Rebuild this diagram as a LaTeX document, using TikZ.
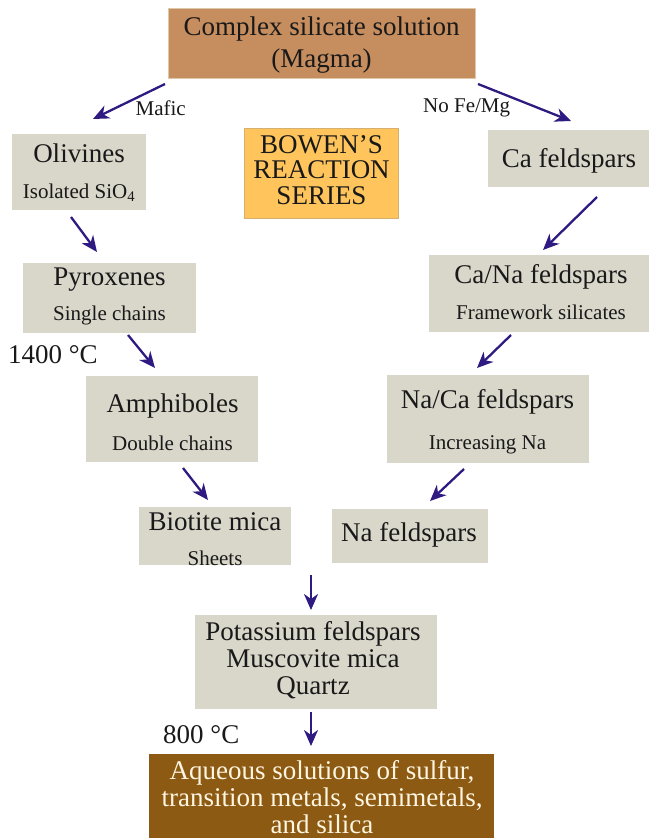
\documentclass[tikz,border=0pt]{standalone}
\usepackage{fontspec}
\setmainfont{Liberation Serif}
\usetikzlibrary{arrows.meta}
\definecolor{boxgray}{RGB}{217,214,202}
\definecolor{topbrown}{RGB}{198,141,95}
\definecolor{topedge}{RGB}{222,200,170}
\definecolor{bowenfill}{RGB}{255,197,92}
\definecolor{bowenedge}{RGB}{214,176,110}
\definecolor{botbrown}{RGB}{140,90,18}
\definecolor{arrowblue}{RGB}{46,26,128}
\definecolor{txtdark}{RGB}{25,25,25}
\definecolor{txtcream}{RGB}{255,246,226}
\begin{document}
\begin{tikzpicture}[x=1pt,y=-1pt,
  graybox/.style={fill=boxgray, draw=none, inner sep=0pt},
  bigtxt/.style={font=\fontsize{27}{27}\selectfont, text=txtdark, inner sep=0pt},
  smalltxt/.style={font=\fontsize{21}{21}\selectfont, text=txtdark, inner sep=0pt},
  arr/.style={draw=arrowblue, line width=2.3pt, -{Stealth[length=16pt,width=14pt,inset=5pt]}}
]
\useasboundingbox (0,0) rectangle (648,838);

% top box
\node[fill=topbrown, draw=topedge, line width=1pt, minimum width=307pt, minimum height=70pt, inner sep=0pt] (magma) at (321.5,43) {};
\node[bigtxt, align=center, font=\fontsize{27}{32}\selectfont] (magmatxt) at (321.5,45) {Complex silicate solution\\(Magma)};

% Bowen box
\node[fill=bowenfill, draw=bowenedge, line width=0.8pt, minimum width=154pt, minimum height=90pt, inner sep=0pt] (bowen) at (321.5,173) {};
\node[bigtxt, align=center, font=\fontsize{27}{25.5}\selectfont] (bowentxt) at (321.5,170) {BOWEN’S\\REACTION\\SERIES};

% left series
\node[graybox, minimum width=134pt, minimum height=76pt] (oliv) at (79,172) {};
\node[bigtxt] (olivT) at (79,153) {Olivines};
\node[smalltxt] (olivS) at (79,193) {Isolated SiO\textsubscript{4}};

\node[graybox, minimum width=173pt, minimum height=70pt] (pyro) at (109.5,298) {};
\node[bigtxt] (pyroT) at (109.5,280) {Pyroxenes};
\node[smalltxt] (pyroS) at (109.5,315) {Single chains};

\node[graybox, minimum width=172pt, minimum height=86pt] (amph) at (172,419) {};
\node[bigtxt] (amphT) at (172.5,406) {Amphiboles};
\node[smalltxt] (amphS) at (172.5,443) {Double chains};

\node[graybox, minimum width=152pt, minimum height=58pt] (biot) at (215,536) {};
\node[bigtxt] (biotT) at (215,522) {Biotite mica};
\node[smalltxt] (biotS) at (215,558) {Sheets};

% right series
\node[graybox, minimum width=162pt, minimum height=57pt] (caf) at (569,158.5) {};
\node[bigtxt] (cafT) at (569,161) {Ca feldspars};

\node[graybox, minimum width=221pt, minimum height=77pt] (cana) at (539.5,293.5) {};
\node[bigtxt] (canaT) at (541,277) {Ca/Na feldspars};
\node[smalltxt] (canaS) at (541,312) {Framework silicates};

\node[graybox, minimum width=202pt, minimum height=88pt] (naca) at (488,419) {};
\node[bigtxt] (nacaT) at (487.5,402) {Na/Ca feldspars};
\node[smalltxt] (nacaS) at (487.5,445) {Increasing Na};

\node[graybox, minimum width=156pt, minimum height=54pt] (naf) at (410,536) {};
\node[bigtxt] (nafT) at (409,535) {Na feldspars};

% bottom
\node[graybox, minimum width=242pt, minimum height=94pt] (pot) at (316,662) {};
\node[bigtxt, align=center, font=\fontsize{27}{27}\selectfont] (potT) at (313,660) {Potassium feldspars\\Muscovite mica\\Quartz};

\node[fill=botbrown, inner sep=0pt, minimum width=345pt, minimum height=84pt] (aq) at (321.5,796) {};
\node[bigtxt, text=txtcream, align=center, font=\fontsize{27}{27}\selectfont] (aqT) at (322,797) {Aqueous solutions of sulfur,\\transition metals, semimetals,\\and silica};

% labels
\node[smalltxt, anchor=east] (mafic) at (186,108) {Mafic};
\node[smalltxt, anchor=west] (nofe) at (423,108) {No Fe/Mg};
\node[bigtxt, anchor=west] (t1400) at (8,355) {1400 °C};
\node[bigtxt, anchor=west] (t800) at (163,735) {800 °C};

% arrow end points
\coordinate (a1s) at (165,84);  \coordinate (a1e) at (93,119);
\coordinate (a2s) at (478,84);  \coordinate (a2e) at (571,121);
\coordinate (a3s) at (71,217);  \coordinate (a3e) at (97,252);
\coordinate (a4s) at (128,335); \coordinate (a4e) at (155,368);
\coordinate (a5s) at (183,468); \coordinate (a5e) at (208,500);
\coordinate (a6s) at (597,197); \coordinate (a6e) at (543,250);
\coordinate (a7s) at (511,335); \coordinate (a7e) at (477,368);
\coordinate (a8s) at (464,469); \coordinate (a8e) at (430,501);
\coordinate (a9s) at (311,575); \coordinate (a9e) at (311,610);
\coordinate (a10s) at (311,712); \coordinate (a10e) at (311,746);

\draw[arr] (a1s) -- (a1e);
\draw[arr] (a2s) -- (a2e);
\draw[arr] (a3s) -- (a3e);
\draw[arr] (a4s) -- (a4e);
\draw[arr] (a5s) -- (a5e);
\draw[arr] (a6s) -- (a6e);
\draw[arr] (a7s) -- (a7e);
\draw[arr] (a8s) -- (a8e);
\draw[arr] (a9s) -- (a9e);
\draw[arr] (a10s) -- (a10e);
\end{tikzpicture}
\end{document}
